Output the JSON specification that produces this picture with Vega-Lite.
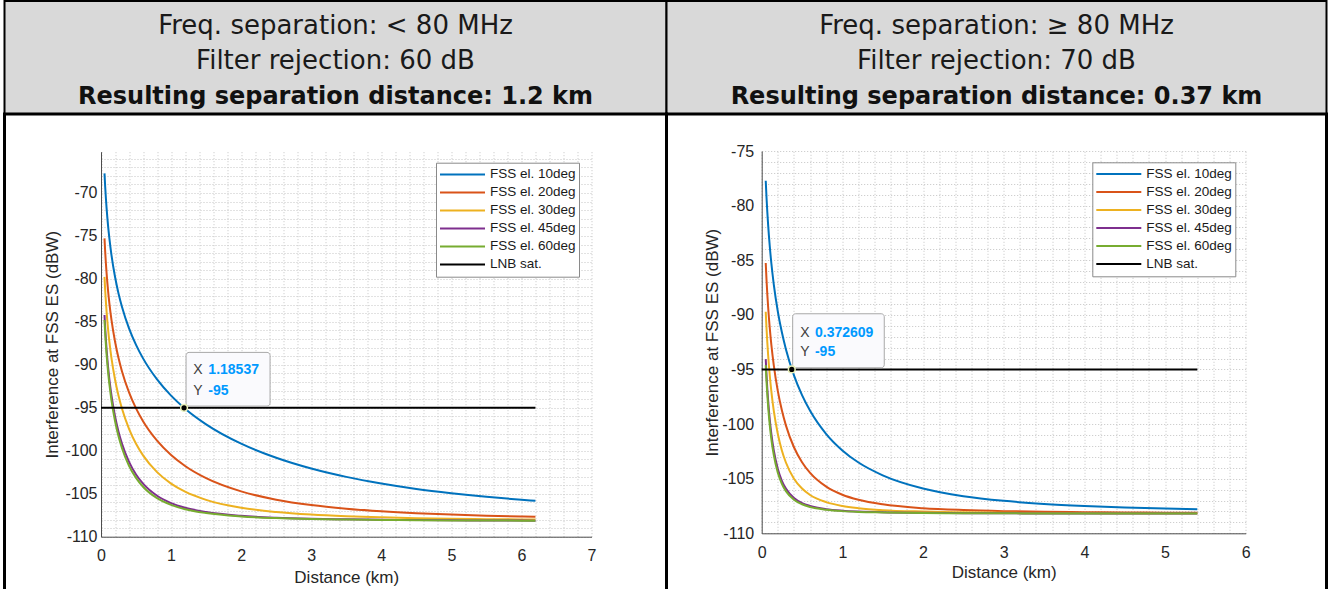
{
  "$schema": "https://vega.github.io/schema/vega-lite/v6.json",
  "padding": {"left": 2.5, "top": 0, "right": 3.5, "bottom": -5},
  "background": "white",
  "datasets": {
    "L": [
      {"d": 0.05, "10": -67.72, "20": -75.29, "30": -79.77, "45": -84.2, "60": -84.78},
      {"d": 0.06, "10": -69.3, "20": -76.87, "30": -81.35, "45": -85.78, "60": -86.36},
      {"d": 0.07, "10": -70.64, "20": -78.21, "30": -82.68, "45": -87.1, "60": -87.68},
      {"d": 0.08, "10": -71.8, "20": -79.36, "30": -83.84, "45": -88.25, "60": -88.83},
      {"d": 0.1, "10": -73.74, "20": -81.3, "30": -85.77, "45": -90.17, "60": -90.74},
      {"d": 0.12, "10": -75.32, "20": -82.88, "30": -87.34, "45": -91.72, "60": -92.29},
      {"d": 0.15, "10": -77.26, "20": -84.81, "30": -89.26, "45": -93.6, "60": -94.17},
      {"d": 0.2, "10": -79.75, "20": -87.29, "30": -91.71, "45": -95.99, "60": -96.53},
      {"d": 0.25, "10": -81.69, "20": -89.21, "30": -93.6, "45": -97.78, "60": -98.31},
      {"d": 0.3, "10": -83.27, "20": -90.77, "30": -95.12, "45": -99.19, "60": -99.7},
      {"d": 0.4, "10": -85.76, "20": -93.21, "30": -97.45, "45": -101.29, "60": -101.75},
      {"d": 0.5, "10": -87.68, "20": -95.07, "30": -99.19, "45": -102.76, "60": -103.16},
      {"d": 0.6, "10": -89.25, "20": -96.56, "30": -100.54, "45": -103.83, "60": -104.19},
      {"d": 0.8, "10": -91.7, "20": -98.83, "30": -102.49, "45": -105.24, "60": -105.52},
      {"d": 1, "10": -93.59, "20": -100.5, "30": -103.82, "45": -106.09, "60": -106.3},
      {"d": 1.2, "10": -95.11, "20": -101.77, "30": -104.76, "45": -106.63, "60": -106.8},
      {"d": 1.5, "10": -96.93, "20": -103.19, "30": -105.71, "45": -107.13, "60": -107.25},
      {"d": 2, "10": -99.18, "20": -104.73, "30": -106.63, "45": -107.57, "60": -107.64},
      {"d": 2.5, "10": -100.82, "20": -105.69, "30": -107.13, "45": -107.79, "60": -107.83},
      {"d": 3, "10": -102.07, "20": -106.32, "30": -107.43, "45": -107.91, "60": -107.94},
      {"d": 3.5, "10": -103.04, "20": -106.74, "30": -107.62, "45": -107.98, "60": -108.01},
      {"d": 4, "10": -103.81, "20": -107.04, "30": -107.75, "45": -108.03, "60": -108.05},
      {"d": 4.5, "10": -104.44, "20": -107.26, "30": -107.84, "45": -108.07, "60": -108.08},
      {"d": 5, "10": -104.94, "20": -107.42, "30": -107.91, "45": -108.09, "60": -108.11},
      {"d": 5.5, "10": -105.36, "20": -107.55, "30": -107.96, "45": -108.11, "60": -108.12},
      {"d": 6, "10": -105.71, "20": -107.65, "30": -107.99, "45": -108.12, "60": -108.13},
      {"d": 6.2, "10": -105.83, "20": -107.68, "30": -108.01, "45": -108.13, "60": -108.14, "LNB": -95},
      {"d": 0, "LNB": -95}
    ],
    "R": [
      {"d": 0.05, "10": -77.72, "20": -85.26, "30": -89.71, "45": -94.05, "60": -94.6},
      {"d": 0.06, "10": -79.3, "20": -86.84, "30": -91.27, "45": -95.56, "60": -96.11},
      {"d": 0.07, "10": -80.63, "20": -88.17, "30": -92.57, "45": -96.81, "60": -97.35},
      {"d": 0.08, "10": -81.79, "20": -89.31, "30": -93.7, "45": -97.88, "60": -98.4},
      {"d": 0.1, "10": -83.72, "20": -91.22, "30": -95.55, "45": -99.59, "60": -100.09},
      {"d": 0.12, "10": -85.3, "20": -92.76, "30": -97.03, "45": -100.92, "60": -101.39},
      {"d": 0.15, "10": -87.23, "20": -94.63, "30": -98.79, "45": -102.42, "60": -102.85},
      {"d": 0.2, "10": -89.7, "20": -96.99, "30": -100.91, "45": -104.11, "60": -104.46},
      {"d": 0.25, "10": -91.6, "20": -98.74, "30": -102.42, "45": -105.19, "60": -105.47},
      {"d": 0.3, "10": -93.14, "20": -100.12, "30": -103.52, "45": -105.91, "60": -106.14},
      {"d": 0.4, "10": -95.54, "20": -102.12, "30": -105.0, "45": -106.77, "60": -106.92},
      {"d": 0.5, "10": -97.35, "20": -103.49, "30": -105.9, "45": -107.23, "60": -107.34},
      {"d": 0.6, "10": -98.78, "20": -104.47, "30": -106.49, "45": -107.5, "60": -107.59},
      {"d": 0.8, "10": -100.91, "20": -105.73, "30": -107.15, "45": -107.79, "60": -107.84},
      {"d": 1, "10": -102.41, "20": -106.47, "30": -107.5, "45": -107.93, "60": -107.97},
      {"d": 1.2, "10": -103.52, "20": -106.93, "30": -107.7, "45": -108.01, "60": -108.04},
      {"d": 1.5, "10": -104.69, "20": -107.35, "30": -107.88, "45": -108.08, "60": -108.09},
      {"d": 2, "10": -105.9, "20": -107.7, "30": -108.01, "45": -108.13, "60": -108.14},
      {"d": 2.5, "10": -106.6, "20": -107.87, "30": -108.08, "45": -108.16, "60": -108.16},
      {"d": 3, "10": -107.03, "20": -107.97, "30": -108.12, "45": -108.17, "60": -108.17},
      {"d": 3.5, "10": -107.31, "20": -108.03, "30": -108.14, "45": -108.18, "60": -108.18},
      {"d": 4, "10": -107.5, "20": -108.07, "30": -108.15, "45": -108.18, "60": -108.18},
      {"d": 4.5, "10": -107.64, "20": -108.09, "30": -108.16, "45": -108.18, "60": -108.18},
      {"d": 5, "10": -107.74, "20": -108.11, "30": -108.17, "45": -108.19, "60": -108.19},
      {"d": 5.4, "10": -107.8, "20": -108.13, "30": -108.17, "45": -108.19, "60": -108.19, "LNB": -95},
      {"d": 0, "LNB": -95}
    ]
  },
  "columns": 2,
  "spacing": 0,
  "align": "each",
  "bounds": "flush",
  "resolve": {"scale": {"color": "independent"}, "legend": {"color": "independent"}},
  "concat": [
    {
      "width": 662,
      "height": 113,
      "view": {"fill": "#d9d9d9", "stroke": "black", "strokeWidth": 2},
      "data": {"values": [
        {"line": 1, "t": "Freq. separation: < 80 MHz"},
        {"line": 2, "t": "Filter rejection: 60 dB"},
        {"line": 3, "t": "Resulting separation distance: 1.2 km"}
      ]},
      "layer": [
        {
          "transform": [{"filter": "datum.line < 3"}],
          "mark": {"type": "text", "font": "DejaVu Sans", "fontSize": 26, "fontWeight": "normal", "baseline": "alphabetic", "align": "center", "color": "#1a1a1a"},
          "encoding": {
            "y": {"field": "line", "type": "quantitative", "scale": {"domain": [1, 3], "range": [33, 103]}, "axis": null},
            "text": {"field": "t"}
          }
        },
        {
          "transform": [{"filter": "datum.line == 3"}],
          "mark": {"type": "text", "font": "DejaVu Sans", "fontSize": 24, "fontWeight": "bold", "baseline": "alphabetic", "align": "center", "color": "#111111"},
          "encoding": {
            "y": {"field": "line", "type": "quantitative", "scale": {"domain": [1, 3], "range": [33, 103]}, "axis": null},
            "text": {"field": "t"}
          }
        }
      ]
    },
    {
      "width": 660,
      "height": 113,
      "view": {"fill": "#d9d9d9", "stroke": "black", "strokeWidth": 2},
      "data": {"values": [
        {"line": 1, "t": "Freq. separation: ≥ 80 MHz"},
        {"line": 2, "t": "Filter rejection: 70 dB"},
        {"line": 3, "t": "Resulting separation distance: 0.37 km"}
      ]},
      "layer": [
        {
          "transform": [{"filter": "datum.line < 3"}],
          "mark": {"type": "text", "font": "DejaVu Sans", "fontSize": 26, "fontWeight": "normal", "baseline": "alphabetic", "align": "center", "color": "#1a1a1a"},
          "encoding": {
            "y": {"field": "line", "type": "quantitative", "scale": {"domain": [1, 3], "range": [33, 103]}, "axis": null},
            "text": {"field": "t"}
          }
        },
        {
          "transform": [{"filter": "datum.line == 3"}],
          "mark": {"type": "text", "font": "DejaVu Sans", "fontSize": 24, "fontWeight": "bold", "baseline": "alphabetic", "align": "center", "color": "#111111"},
          "encoding": {
            "y": {"field": "line", "type": "quantitative", "scale": {"domain": [1, 3], "range": [33, 103]}, "axis": null},
            "text": {"field": "t"}
          }
        }
      ]
    },
    {
      "width": 662,
      "height": 478,
      "view": {"fill": "white", "stroke": "black", "strokeWidth": 3},
      "resolve": {"axis": {"x": "independent", "y": "independent"}},
      "layer": [
        {
          "data": {"name": "L"},
          "transform": [
            {"fold": ["10", "20", "30", "45", "60", "LNB"], "as": ["s", "v"]},
            {"filter": "isValid(datum.v)"}
          ],
          "mark": {"type": "line", "strokeWidth": 2, "interpolate": "monotone"},
          "encoding": {
            "x": {
              "field": "d", "type": "quantitative",
              "scale": {"domain": [0, 7], "range": [96.5, 587], "nice": false, "zero": false},
              "axis": {"orient": "bottom", "offset": -55.3, "values": [0, 1, 2, 3, 4, 5, 6, 7], "grid": false, "ticks": false,
                       "domainColor": "#4d4d4d", "domainWidth": 1, "labelOverlap": false, "labelFlush": false, "labelBound": false,
                       "labelPadding": 11, "labelFont": "Liberation Sans", "labelFontSize": 16, "labelColor": "#262626",
                       "title": "Distance (km)", "titleFont": "Liberation Sans", "titleFontSize": 17, "titleFontWeight": "normal", "titleColor": "#262626", "titlePadding": 6}
            },
            "y": {
              "field": "v", "type": "quantitative",
              "scale": {"domain": [-110, -65.2], "range": [422.7, 37.7], "nice": false, "zero": false},
              "axis": {
                "orient": "left", "offset": -96.5,
                "values": [-110, -109, -108, -107, -106, -105, -104, -103, -102, -101, -100, -99, -98, -97, -96, -95, -94, -93, -92, -91, -90, -89, -88, -87, -86, -85, -84, -83, -82, -81, -80, -79, -78, -77, -76, -75, -74, -73, -72, -71, -70, -69, -68, -67, -66],
                "labelExpr": "datum.value % 5 == 0 ? datum.label : ''",
                "grid": true, "gridColor": "#c4c4c4", "gridDash": [1, 2], "gridWidth": 1, "ticks": false,
                "domainColor": "#4d4d4d", "domainWidth": 1, "labelOverlap": false, "labelFlush": false, "labelBound": false,
                "labelPadding": 4, "labelFont": "Liberation Sans", "labelFontSize": 16, "labelColor": "#262626",
                "title": "Interference at FSS ES (dBW)", "titleFont": "Liberation Sans", "titleFontSize": 17, "titleFontWeight": "normal", "titleColor": "#262626", "titlePadding": 3
              }
            },
            "color": {
              "field": "s", "type": "nominal",
              "scale": {"domain": ["10", "20", "30", "45", "60", "LNB"], "range": ["#0072BD", "#D95319", "#EDB120", "#7E2F8E", "#77AC30", "#000000"]},
              "legend": {
                "title": null, "orient": "none", "legendX": 431.5, "legendY": 48.7,
                "symbolType": "stroke", "symbolSize": 2025, "symbolStrokeWidth": 2,
                "labelExpr": "datum.label == 'LNB' ? 'LNB sat.' : 'FSS el. ' + datum.label + 'deg'",
                "fillColor": "white", "strokeColor": "#8a8a8a", "padding": 3,
                "rowPadding": 0, "clipHeight": 17.5, "labelOffset": 4, "labelLimit": 300,
                "labelFont": "Liberation Sans", "labelFontSize": 13.5, "labelColor": "#1a1a1a"
              }
            }
          }
        },
        {
          "data": {"values": [{"d": 1.18537, "v": -95}]},
          "resolve": {"axis": {"x": "independent", "y": "independent"}},
          "layer": [
            {
              "mark": {"type": "rect", "xOffset": 2, "x2Offset": 86, "yOffset": -55.4, "y2Offset": -1.7, "cornerRadius": 3, "fill": "#fafafd", "stroke": "#a8a8a8", "strokeWidth": 1},
              "encoding": {
                "x": {"field": "d", "type": "quantitative", "axis": null},
                "x2": {"field": "d"},
                "y": {"field": "v", "type": "quantitative", "axis": null},
                "y2": {"field": "v"}
              }
            },
            {
              "mark": {"type": "point", "filled": true, "color": "black", "stroke": "#e8f0b8", "strokeWidth": 1.5, "size": 45, "opacity": 1},
              "encoding": {
                "x": {"field": "d", "type": "quantitative", "axis": {"orient": "top", "values": [0, 0.2, 0.4, 0.6, 0.8, 1, 1.2, 1.4, 1.6, 1.8, 2, 2.2, 2.4, 2.6, 2.8, 3, 3.2, 3.4, 3.6, 3.8, 4, 4.2, 4.4, 4.6, 4.8, 5, 5.2, 5.4, 5.6, 5.8, 6, 6.2, 6.4, 6.6, 6.8, 7], "grid": true, "gridColor": "#c4c4c4", "gridDash": [1, 2], "gridWidth": 1, "labels": false, "ticks": false, "domain": false, "title": null}},
                "y": {"field": "v", "type": "quantitative", "axis": null}
              }
            },
            {
              "mark": {"type": "text", "text": "X", "align": "left", "baseline": "middle", "dx": 9.3, "dy": -37.7, "font": "Liberation Sans", "fontSize": 14, "color": "#404040"},
              "encoding": {
                "x": {"field": "d", "type": "quantitative", "axis": null},
                "y": {"field": "v", "type": "quantitative", "axis": null}
              }
            },
            {
              "mark": {"type": "text", "text": "Y", "align": "left", "baseline": "middle", "dx": 9.3, "dy": -17, "font": "Liberation Sans", "fontSize": 14, "color": "#404040"},
              "encoding": {
                "x": {"field": "d", "type": "quantitative", "axis": null},
                "y": {"field": "v", "type": "quantitative", "axis": null}
              }
            },
            {
              "mark": {"type": "text", "align": "left", "baseline": "middle", "dx": 24.3, "dy": -37.7, "font": "Liberation Sans", "fontSize": 14, "fontWeight": "bold", "color": "#0099ff"},
              "encoding": {
                "x": {"field": "d", "type": "quantitative", "axis": null},
                "y": {"field": "v", "type": "quantitative", "axis": null},
                "text": {"field": "d", "type": "quantitative", "format": ".6~g"}
              }
            },
            {
              "mark": {"type": "text", "align": "left", "baseline": "middle", "dx": 24.3, "dy": -17, "font": "Liberation Sans", "fontSize": 14, "fontWeight": "bold", "color": "#0099ff"},
              "encoding": {
                "x": {"field": "d", "type": "quantitative", "axis": null},
                "y": {"field": "v", "type": "quantitative", "axis": null},
                "text": {"field": "v", "type": "quantitative", "format": ".6~g"}
              }
            }
          ]
        }
      ]
    },
    {
      "width": 660,
      "height": 478,
      "view": {"fill": "white", "stroke": "black", "strokeWidth": 3},
      "resolve": {"axis": {"x": "independent", "y": "independent"}},
      "layer": [
        {
          "data": {"name": "R"},
          "transform": [
            {"fold": ["10", "20", "30", "45", "60", "LNB"], "as": ["s", "v"]},
            {"filter": "isValid(datum.v)"}
          ],
          "mark": {"type": "line", "strokeWidth": 2, "interpolate": "monotone"},
          "encoding": {
            "x": {
              "field": "d", "type": "quantitative",
              "scale": {"domain": [0, 6], "range": [95.2, 579.2], "nice": false, "zero": false},
              "axis": {"orient": "bottom", "offset": -58.7, "values": [0, 1, 2, 3, 4, 5, 6], "grid": false, "ticks": false,
                       "domainColor": "#4d4d4d", "domainWidth": 1, "labelOverlap": false, "labelFlush": false, "labelBound": false,
                       "labelPadding": 11, "labelFont": "Liberation Sans", "labelFontSize": 16, "labelColor": "#262626",
                       "title": "Distance (km)", "titleFont": "Liberation Sans", "titleFontSize": 17, "titleFontWeight": "normal", "titleColor": "#262626", "titlePadding": 4.5}
            },
            "y": {
              "field": "v", "type": "quantitative",
              "scale": {"domain": [-110, -75], "range": [419.3, 37], "nice": false, "zero": false},
              "axis": {
                "orient": "left", "offset": -95.2,
                "values": [-110, -109, -108, -107, -106, -105, -104, -103, -102, -101, -100, -99, -98, -97, -96, -95, -94, -93, -92, -91, -90, -89, -88, -87, -86, -85, -84, -83, -82, -81, -80, -79, -78, -77, -76, -75],
                "labelExpr": "datum.value % 5 == 0 ? datum.label : ''",
                "grid": true, "gridColor": "#c4c4c4", "gridDash": [1, 2], "gridWidth": 1, "ticks": false,
                "domainColor": "#4d4d4d", "domainWidth": 1, "labelOverlap": false, "labelFlush": false, "labelBound": false,
                "labelPadding": 8, "labelFont": "Liberation Sans", "labelFontSize": 16, "labelColor": "#262626",
                "title": "Interference at FSS ES (dBW)", "titleFont": "Liberation Sans", "titleFontSize": 17, "titleFontWeight": "normal", "titleColor": "#262626", "titlePadding": 0.5
              }
            },
            "color": {
              "field": "s", "type": "nominal",
              "scale": {"domain": ["10", "20", "30", "45", "60", "LNB"], "range": ["#0072BD", "#D95319", "#EDB120", "#7E2F8E", "#77AC30", "#000000"]},
              "legend": {
                "title": null, "orient": "none", "legendX": 425.8, "legendY": 48.3,
                "symbolType": "stroke", "symbolSize": 2025, "symbolStrokeWidth": 2,
                "labelExpr": "datum.label == 'LNB' ? 'LNB sat.' : 'FSS el. ' + datum.label + 'deg'",
                "fillColor": "white", "strokeColor": "#8a8a8a", "padding": 3,
                "rowPadding": 0, "clipHeight": 17.5, "labelOffset": 4, "labelLimit": 300,
                "labelFont": "Liberation Sans", "labelFontSize": 13.5, "labelColor": "#1a1a1a"
              }
            }
          }
        },
        {
          "data": {"values": [{"d": 0.372609, "v": -95}]},
          "resolve": {"axis": {"x": "independent", "y": "independent"}},
          "layer": [
            {
              "mark": {"type": "rect", "xOffset": 0.9, "x2Offset": 92.5, "yOffset": -55.7, "y2Offset": -1.7, "cornerRadius": 3, "fill": "#fafafd", "stroke": "#a8a8a8", "strokeWidth": 1},
              "encoding": {
                "x": {"field": "d", "type": "quantitative", "axis": null},
                "x2": {"field": "d"},
                "y": {"field": "v", "type": "quantitative", "axis": null},
                "y2": {"field": "v"}
              }
            },
            {
              "mark": {"type": "point", "filled": true, "color": "black", "stroke": "#e8f0b8", "strokeWidth": 1.5, "size": 45, "opacity": 1},
              "encoding": {
                "x": {"field": "d", "type": "quantitative", "axis": {"orient": "top", "values": [0, 0.2, 0.4, 0.6, 0.8, 1, 1.2, 1.4, 1.6, 1.8, 2, 2.2, 2.4, 2.6, 2.8, 3, 3.2, 3.4, 3.6, 3.8, 4, 4.2, 4.4, 4.6, 4.8, 5, 5.2, 5.4, 5.6, 5.8, 6], "grid": true, "gridColor": "#c4c4c4", "gridDash": [1, 2], "gridWidth": 1, "labels": false, "ticks": false, "domain": false, "title": null}},
                "y": {"field": "v", "type": "quantitative", "axis": null}
              }
            },
            {
              "mark": {"type": "text", "text": "X", "align": "left", "baseline": "middle", "dx": 8.5, "dy": -36.7, "font": "Liberation Sans", "fontSize": 14, "color": "#404040"},
              "encoding": {
                "x": {"field": "d", "type": "quantitative", "axis": null},
                "y": {"field": "v", "type": "quantitative", "axis": null}
              }
            },
            {
              "mark": {"type": "text", "text": "Y", "align": "left", "baseline": "middle", "dx": 8.5, "dy": -17.3, "font": "Liberation Sans", "fontSize": 14, "color": "#404040"},
              "encoding": {
                "x": {"field": "d", "type": "quantitative", "axis": null},
                "y": {"field": "v", "type": "quantitative", "axis": null}
              }
            },
            {
              "mark": {"type": "text", "align": "left", "baseline": "middle", "dx": 23.2, "dy": -36.7, "font": "Liberation Sans", "fontSize": 14, "fontWeight": "bold", "color": "#0099ff"},
              "encoding": {
                "x": {"field": "d", "type": "quantitative", "axis": null},
                "y": {"field": "v", "type": "quantitative", "axis": null},
                "text": {"field": "d", "type": "quantitative", "format": ".6~g"}
              }
            },
            {
              "mark": {"type": "text", "align": "left", "baseline": "middle", "dx": 23.2, "dy": -17.3, "font": "Liberation Sans", "fontSize": 14, "fontWeight": "bold", "color": "#0099ff"},
              "encoding": {
                "x": {"field": "d", "type": "quantitative", "axis": null},
                "y": {"field": "v", "type": "quantitative", "axis": null},
                "text": {"field": "v", "type": "quantitative", "format": ".6~g"}
              }
            }
          ]
        }
      ]
    }
  ],
  "config": {
    "locale": {"number": {"decimal": ".", "thousands": ",", "grouping": [3], "currency": ["$", ""], "minus": "-"}},
    "font": "Liberation Sans"
  }
}
